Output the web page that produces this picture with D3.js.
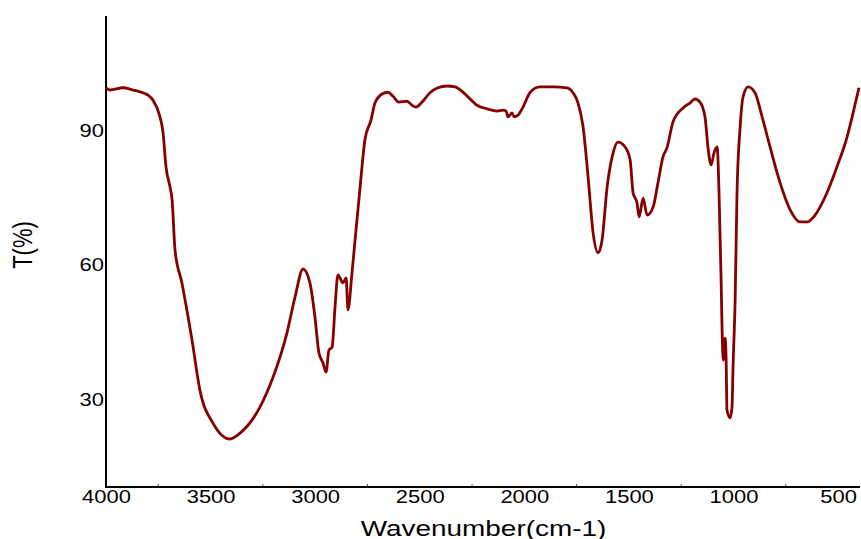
<!DOCTYPE html>
<html>
<head>
<meta charset="utf-8">
<script src="https://cdn.jsdelivr.net/npm/d3@7"></script>
<style>
  html, body { margin: 0; padding: 0; background: #fff; }
  svg { display: block; }
  text { font-family: "Liberation Sans", Arial, sans-serif; fill: #000; }
</style>
</head>
<body>
<svg id="chart" width="861" height="539"></svg>
<script>
// Wavenumber (cm-1)
const wavenumber = [4000,3981,3919,3871,3837,3804,3775,3747,3727,3713,3694,3684,3670,3637,3589,3551,3488,3407,3359,3264,3201,3135,3096,3058,3025,3001,2982,2962,2948,2934,2919,2905,2891,2867,2852,2843,2824,2809,2785,2762,2733,2714,2680,2652,2628,2599,2561,2537,2518,2489,2451,2413,2370,2331,2283,2226,2178,2130,2102,2087,2078,2059,2049,2030,2006,1973,1925,1863,1796,1767,1743,1719,1695,1671,1647,1628,1604,1580,1552,1518,1494,1480,1461,1451,1432,1413,1384,1361,1337,1318,1289,1241,1208,1184,1160,1136,1122,1107,1093,1078,1069,1059,1054,1049,1040,1035,1031,1016,1007,1002,992,983,968,954,930,897,863,825,777,729,682,648,610,553,505,457,428,400];
// Transmittance T(%)
const transmittance = [99.4,98.9,99.4,98.9,98.5,97.9,96.6,93.7,89.3,81.7,77.3,74.4,63.2,55.9,43.2,32.0,24.6,21.1,22.4,28.2,34.9,44.7,52.8,59.0,55.9,48.3,40.3,38.0,36.0,40.9,41.6,50.5,57.7,55.9,57.0,49.9,58.1,65.5,77.3,87.8,92.2,96.0,98.0,98.4,97.5,96.2,96.4,95.5,95.1,96.2,98.3,99.4,99.8,99.6,98.0,95.5,94.7,94.2,94.4,94.2,92.9,93.8,92.9,93.3,95.1,98.3,99.6,99.6,99.4,98.3,96.0,90.7,79.5,67.0,62.6,65.5,77.3,84.0,87.3,86.2,83.3,76.0,73.7,70.6,74.8,71.0,72.8,78.2,84.0,86.0,91.8,94.9,96.0,96.9,96.2,92.9,86.2,82.2,84.9,86.2,76.0,56.5,44.7,38.7,43.6,38.7,27.5,25.8,28.2,37.1,52.1,76.0,90.7,97.4,99.6,98.3,92.9,86.2,78.2,72.2,69.5,69.5,71.0,76.0,81.8,88.4,93.8,99.4];

const xTickLabels = [4000,3500,3000,2500,2000,1500,1000,500];
const xMinorTicks = [3750,3250,2750,2250,1750,1250,750];
const yTickLabels = [30,60,90];
const xTitle = "Wavenumber(cm-1)";
const yTitle = "T(%)";

const svg = d3.select("#chart");
const mLeft = 106, mRight = 860, mTop = 16, mBottom = 487;

const x = d3.scaleLinear().domain([4000, 395]).range([mLeft, mRight]);
const y = d3.scaleLinear().domain([10.4, 115.4]).range([mBottom, mTop]);

// bottom axis labels
const xAxis = d3.axisBottom(x).tickValues(xTickLabels).tickSize(0).tickPadding(0).tickFormat(d3.format("d"));
const gx = svg.append("g").attr("transform", `translate(0,${mBottom})`).call(xAxis);
gx.select(".domain").remove();
gx.selectAll("text").attr("y", 0).attr("dy", "16px")
  .style("font-size", "18px")
  .attr("transform", "scale(1.22,1)");

// minor ticks (inward)
svg.append("g").selectAll("line").data(xMinorTicks).join("line")
  .attr("x1", d => x(d)).attr("x2", d => x(d))
  .attr("y1", mBottom).attr("y2", mBottom - 3)
  .attr("stroke", "#555").attr("stroke-width", 1);

// left axis labels
const yAxis = d3.axisLeft(y).tickValues(yTickLabels).tickSize(0).tickPadding(0);
const gy = svg.append("g").attr("transform", `translate(${mLeft},0)`).call(yAxis);
gy.select(".domain").remove();
gy.selectAll("text").attr("x", -2 / 1.22).attr("dy", "0.36em")
  .style("font-size", "18px")
  .attr("transform", "scale(1.22,1)");

// axis lines
svg.append("line").attr("x1", mLeft).attr("x2", mLeft).attr("y1", mTop).attr("y2", mBottom + 1)
  .attr("stroke", "#000").attr("stroke-width", 2);
svg.append("line").attr("x1", mLeft - 1).attr("x2", mRight).attr("y1", mBottom).attr("y2", mBottom)
  .attr("stroke", "#000").attr("stroke-width", 2);

// spectrum
const data = wavenumber.map((w, i) => ({w, t: transmittance[i]}));
const line = d3.line().x(d => x(d.w)).y(d => y(d.t)).curve(d3.curveMonotoneX);
svg.append("path").datum(data)
  .attr("d", line)
  .attr("fill", "none")
  .attr("stroke", "#860000")
  .attr("stroke-width", 2.8)
  .attr("stroke-linejoin", "round");

// titles
svg.append("text")
  .attr("transform", "translate(483.5,536) scale(1.27,1)")
  .attr("text-anchor", "middle")
  .style("font-size", "22px")
  .text(xTitle);

svg.append("text")
  .attr("transform", "translate(32,245) scale(1.25,1) rotate(-90)")
  .attr("text-anchor", "middle")
  .style("font-size", "22px")
  .text(yTitle);
</script>
</body>
</html>
